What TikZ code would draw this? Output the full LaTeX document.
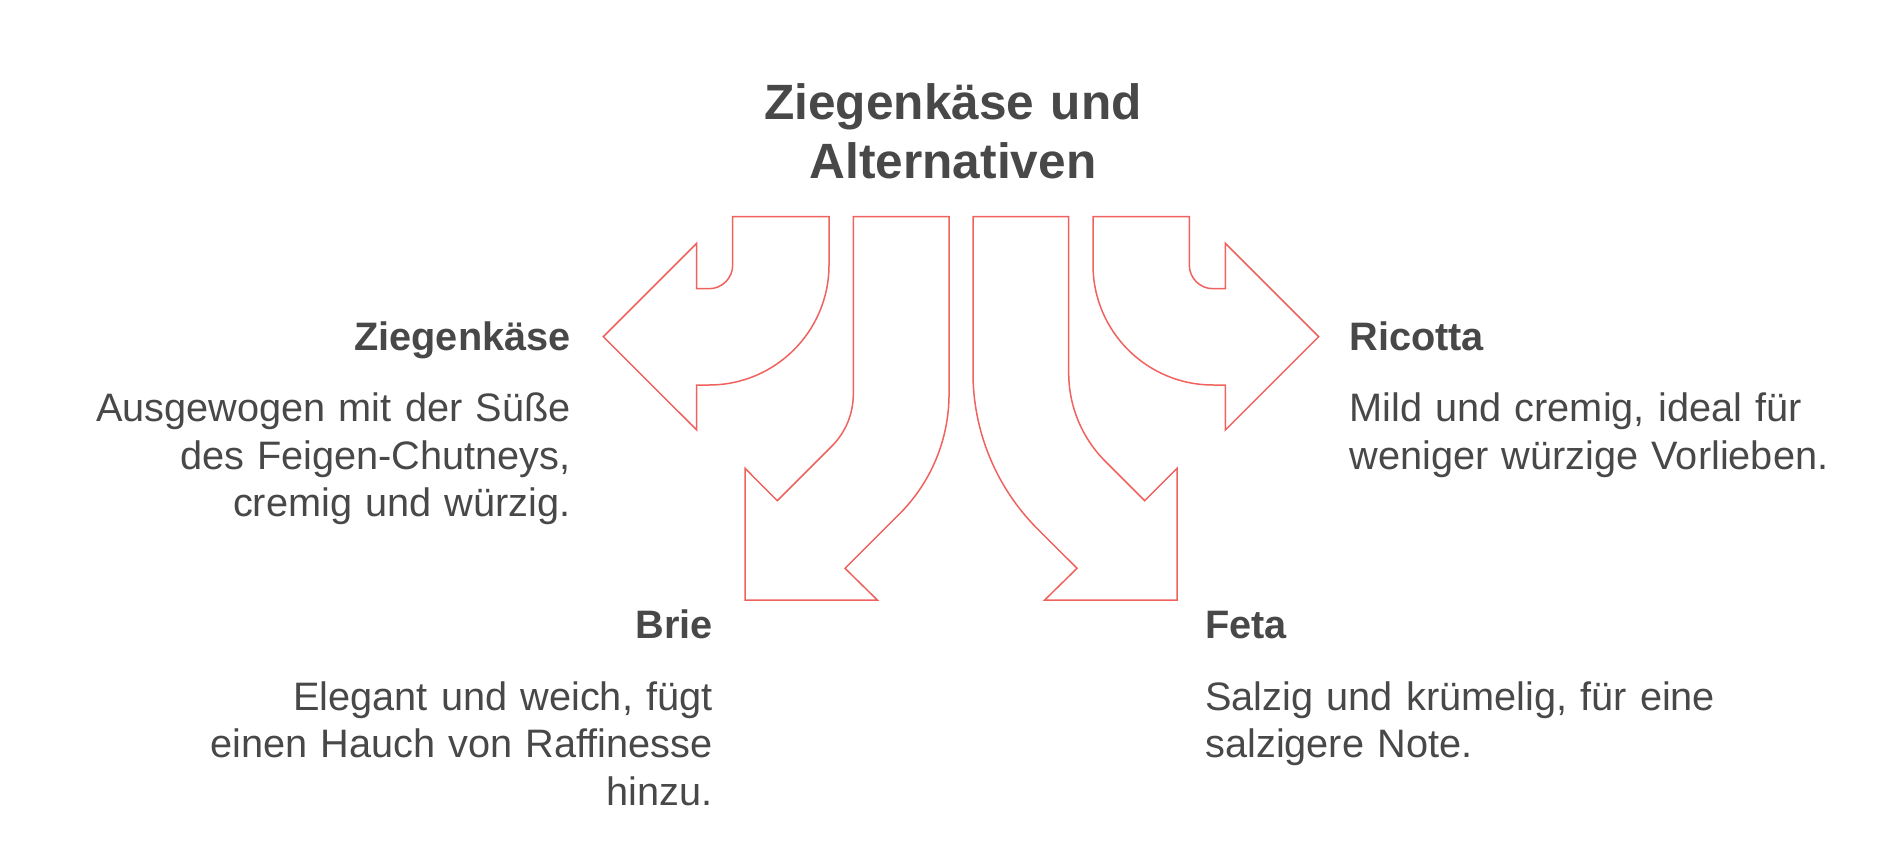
\documentclass[tikz,border=0pt]{standalone}
\usepackage{fontspec}
\setmainfont{Liberation Sans}
\usetikzlibrary{positioning}
\definecolor{lachs}{RGB}{240,98,94}
\definecolor{tinte}{RGB}{72,72,72}
\newcommand*{\grund}{\fontsize{19.85}{23.75}\selectfont}

\begin{document}
\begin{tikzpicture}[x=0.5pt,y=-0.5pt,
  pfeil/.style={draw=lachs,line width=0.75pt,line join=miter},
  titel/.style={inner sep=0pt,text=tinte,text width=500pt,align=center,
    font=\fontsize{24.8}{29.15}\selectfont\bfseries},
  kopf/.style={inner sep=0pt,text=tinte,font=\grund\bfseries},
  rechtsbund/.style={inner sep=0pt,text=tinte,text width=270pt,align=right,font=\grund},
  linksbund/.style={inner sep=0pt,text=tinte,text width=270pt,align=left,font=\grund}]
\useasboundingbox (0,0) rectangle (1898,866);
% Title
\node[titel,anchor=base] (titel) at (953,120) {Ziegenkäse und\\Alternativen};
% Arrow to the left (Ziegenkaese)
\draw[pfeil] (829,216.7) -- (732.7,216.7) -- (732.7,265)
  arc[start angle=0,end angle=-90,radius=11.85pt] -- (696.7,288.7) -- (696.7,243.3)
  -- (603.3,336.7) -- (696.7,430) -- (696.7,385) -- (709,385)
  arc[start angle=-90,end angle=0,radius=60pt] -- cycle;
% Arrow down left (Brie)
\draw[pfeil] (853.3,216.7) -- (853.3,394.2)
  arc[start angle=0,end angle=-45,radius=36.85pt] -- (777.3,500.7) -- (745,468.3)
  -- (745,600) -- (877.3,600) -- (845,568.3) -- (899.4,514)
  arc[start angle=-45,end angle=0,radius=84.7pt] -- (949,216.7) -- cycle;
% Arrow down right (Feta)
\draw[pfeil] (1068.7,216.7) -- (1068.7,373)
  arc[start angle=180,end angle=225,radius=62.45pt] -- (1144.7,500.7) -- (1177,468.3)
  -- (1177,600) -- (1044.7,600) -- (1077,568.3) -- (1037.6,529)
  arc[start angle=225,end angle=180,radius=110.3pt] -- (973,216.7) -- cycle;
% Arrow to the right (Ricotta)
\draw[pfeil] (1093,216.7) -- (1189.3,216.7) -- (1189.3,265)
  arc[start angle=180,end angle=270,radius=11.85pt] -- (1225.3,288.7) -- (1225.3,243.3)
  -- (1318.7,336.7) -- (1225.3,430) -- (1225.3,385) -- (1213,385)
  arc[start angle=270,end angle=180,radius=60pt] -- cycle;
% Headings
\node[kopf,anchor=base east] (kZiege) at (571,350) {Ziegenkäse};
\node[kopf,anchor=base west] (kRicotta) at (1349,350) {Ricotta};
\node[kopf,anchor=base east] (kBrie) at (713,638.3) {Brie};
\node[kopf,anchor=base west] (kFeta) at (1205,638.3) {Feta};
% Descriptions
\node[rechtsbund,below=35.85pt of kZiege.base east,anchor=base east] (tZiege)
  {Ausgewogen mit der Süße\\des Feigen-Chutneys,\\cremig und würzig.};
\node[linksbund,below=35.85pt of kRicotta.base west,anchor=base west] (tRicotta)
  {Mild und cremig, ideal für\\weniger würzige Vorlieben.};
\node[rechtsbund,below=35.85pt of kBrie.base east,anchor=base east] (tBrie)
  {Elegant und weich, fügt\\einen Hauch von Raffinesse\\hinzu.};
\node[linksbund,below=35.85pt of kFeta.base west,anchor=base west] (tFeta)
  {Salzig und krümelig, für eine\\salzigere Note.};
\end{tikzpicture}
\end{document}
